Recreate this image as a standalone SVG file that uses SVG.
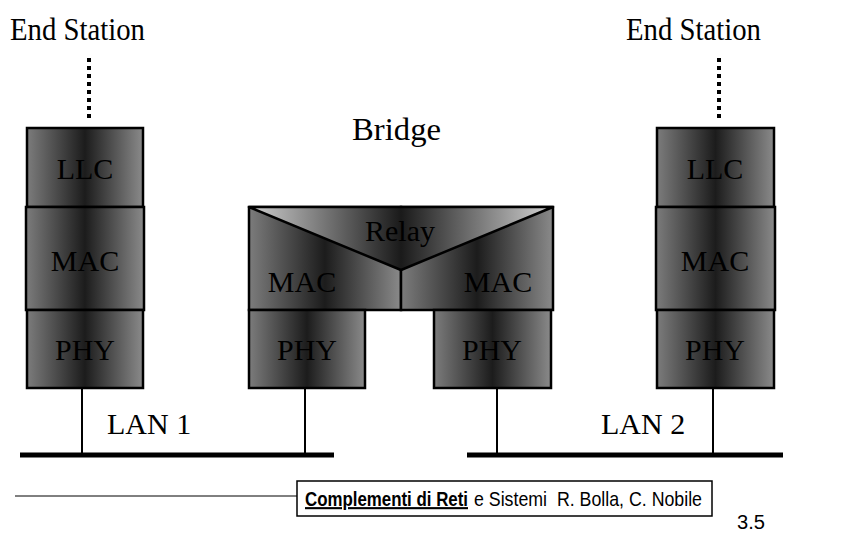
<svg xmlns="http://www.w3.org/2000/svg" width="854" height="536" viewBox="0 0 854 536">
  <defs>
    <linearGradient id="layer" x1="0" y1="0" x2="1" y2="0">
      <stop offset="0" stop-color="#7c7c7c"/>
      <stop offset="0.5" stop-color="#1c1c1c"/>
      <stop offset="1" stop-color="#8a8a8a"/>
    </linearGradient>
    <linearGradient id="relay" x1="0" y1="0" x2="1" y2="0">
      <stop offset="0" stop-color="#d0d0d0"/>
      <stop offset="0.5" stop-color="#1a1a1a"/>
      <stop offset="1" stop-color="#d4d4d4"/>
    </linearGradient>
  </defs>
  <style>
    .box { fill: url(#layer); stroke: #000; stroke-width: 2.5; }
    .lbl { font-family: "Liberation Serif", "Times New Roman", serif; font-size: 30px; fill: #000; text-anchor: middle; }
    .title { font-family: "Liberation Serif", "Times New Roman", serif; font-size: 31px; fill: #000; }
    .wire { stroke: #000; stroke-width: 2; fill: none; }
    .bus { stroke: #000; stroke-width: 5; }
    .dots { stroke: #000; stroke-width: 4; stroke-dasharray: 4 4; }
    .foot { font-family: "Liberation Sans", Arial, sans-serif; font-size: 17px; fill: #000; }
  </style>

  <!-- titles -->
  <text class="title" x="10" y="40" textLength="135" lengthAdjust="spacingAndGlyphs">End Station</text>
  <text class="title" x="626" y="40" textLength="135" lengthAdjust="spacingAndGlyphs">End Station</text>
  <text class="title" x="352" y="140" textLength="89" lengthAdjust="spacingAndGlyphs">Bridge</text>

  <!-- left end station -->
  <g id="station-left">
    <rect class="box" x="27" y="128" width="116" height="79"/>
    <text class="lbl" x="85" y="179">LLC</text>
    <rect class="box" x="26" y="207" width="118" height="103"/>
    <text class="lbl" x="85" y="271">MAC</text>
    <rect class="box" x="27" y="310" width="116" height="78"/>
    <text class="lbl" x="85" y="360">PHY</text>
  </g>

  <!-- bridge -->
  <g id="bridge">
    <rect class="box" x="249" y="207" width="152" height="103"/>
    <rect class="box" x="401" y="207" width="152" height="103"/>
    <polygon points="249,207 553,207 401,270" fill="url(#relay)" stroke="#000" stroke-width="2.5" stroke-linejoin="round"/>
    <text class="lbl" x="400" y="241" font-size="28">Relay</text>
    <text class="lbl" x="302" y="292">MAC</text>
    <text class="lbl" x="498" y="292">MAC</text>
    <rect class="box" x="249" y="310" width="116" height="78"/>
    <text class="lbl" x="307" y="360">PHY</text>
    <rect class="box" x="434" y="310" width="117" height="78"/>
    <text class="lbl" x="492" y="360">PHY</text>
  </g>

  <!-- right end station -->
  <g id="station-right">
    <rect class="box" x="657" y="128" width="117" height="79"/>
    <text class="lbl" x="715" y="179">LLC</text>
    <rect class="box" x="656" y="207" width="119" height="103"/>
    <text class="lbl" x="715" y="271">MAC</text>
    <rect class="box" x="657" y="310" width="117" height="78"/>
    <text class="lbl" x="715" y="360">PHY</text>
  </g>

  <!-- connectors -->
  <g id="connectors">
    <line class="dots" x1="89" y1="58" x2="89" y2="122"/>
    <line class="dots" x1="719" y1="58" x2="719" y2="122"/>
    <line class="wire" x1="82" y1="388" x2="82" y2="455"/>
    <line class="wire" x1="305" y1="388" x2="305" y2="455"/>
    <line class="wire" x1="497" y1="388" x2="497" y2="455"/>
    <line class="wire" x1="713" y1="388" x2="713" y2="455"/>
    <line class="bus" x1="20" y1="455" x2="334" y2="455"/>
    <line class="bus" x1="467" y1="455" x2="783" y2="455"/>
  </g>

  <text class="lbl" x="107" y="434" style="text-anchor:start">LAN 1</text>
  <text class="lbl" x="601" y="434" style="text-anchor:start">LAN 2</text>

  <!-- footer: narrow, tall sans text -->
  <g id="footer">
    <line x1="15" y1="496" x2="297" y2="496" stroke="#000" stroke-width="1"/>
    <rect x="297" y="481" width="415" height="35" fill="none" stroke="#000" stroke-width="1.5"/>
    <g transform="translate(0,506) scale(1,1.24)">
      <text class="foot" x="305" y="0" font-weight="bold" text-decoration="underline" textLength="163" lengthAdjust="spacingAndGlyphs">Complementi di Reti</text>
      <text class="foot" x="474" y="0" textLength="228" lengthAdjust="spacingAndGlyphs" xml:space="preserve">e Sistemi  R. Bolla, C. Nobile</text>
    </g>
    <g transform="translate(0,529) scale(1,1.24)">
      <text class="foot" x="737" y="0" textLength="28" lengthAdjust="spacingAndGlyphs">3.5</text>
    </g>
  </g>
</svg>
